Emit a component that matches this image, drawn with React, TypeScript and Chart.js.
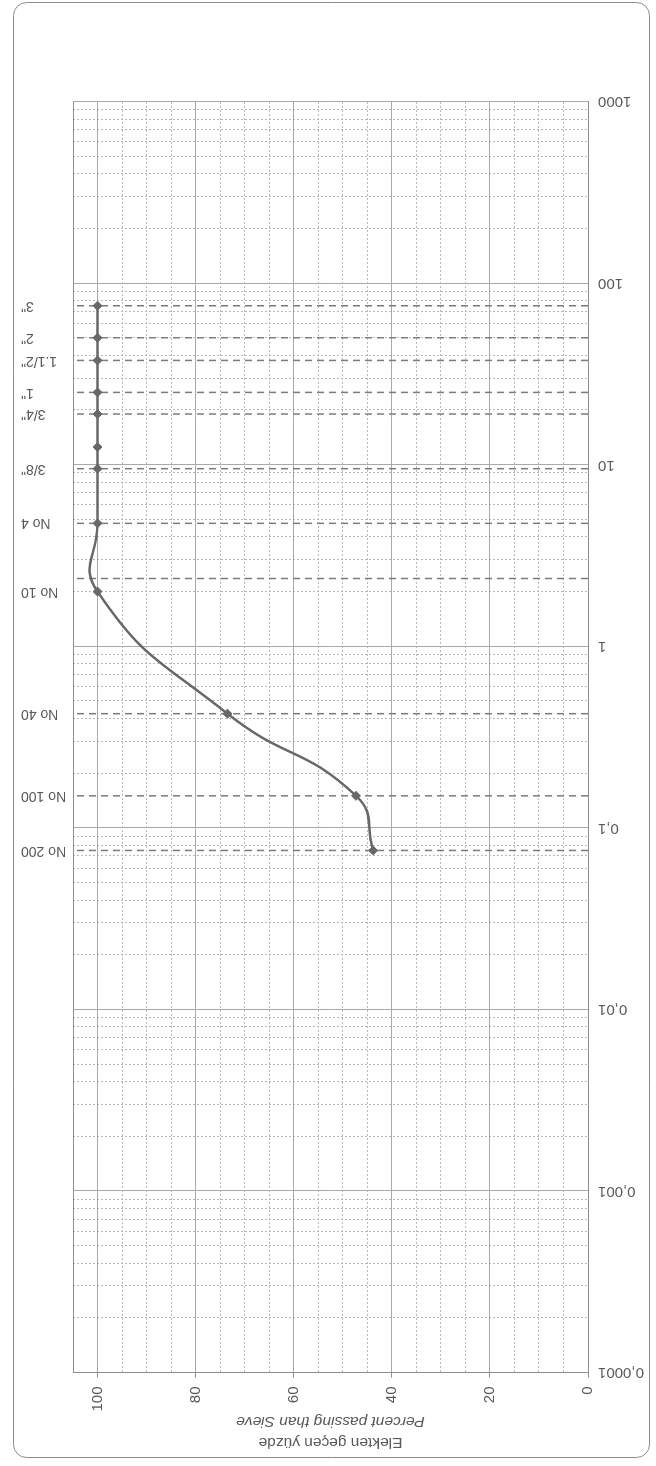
import React, { useEffect, useRef } from 'react';
import { Chart, registerables } from 'chart.js';

Chart.register(...registerables);

// ---- data ----
const grainSizes = [75, 50, 37.5, 25, 19, 12.5, 9.5, 4.75, 2.0, 0.425, 0.15, 0.075];
const percentPassing = [100, 100, 100, 100, 100, 100, 100, 100, 100, 73.5, 47.3, 43.8];

const sieveLabels = ['3"', '2"', '1.1/2"', '1"', '3/4"', '3/8"', 'No 4', 'No 10', 'No 40', 'No 100', 'No 200'];
const sieveLabelSizes = [75, 50, 37.5, 25, 19, 9.5, 4.75, 2.0, 0.425, 0.15, 0.075];
const sieveLineSizes = [75, 50, 37.5, 25, 19, 9.5, 4.75, 2.36, 0.425, 0.15, 0.075];

const sizeDecades = [0.0001, 0.001, 0.01, 0.1, 1, 10, 100, 1000];
const sizeTickLabels = ['0,0001', '0,001', '0,01', '0,1', '1', '10', '100', '1000'];
const percentTicks = [0, 20, 40, 60, 80, 100];
const percentMax = 105;
const percentStep = 5;
const yTitleLines = ['Elekten geçen yüzde', 'Percent passing than Sieve'];

// ---- styles ----
const FONT = '"Liberation Sans", Arial, sans-serif';
const TEXT = '#595959';
const MAJOR = '#a9a9a9';
const MINOR = '#b9b9b9';
const EDGE = '#8e8e8e';

const decadeIndex = (v: number) =>
  sizeDecades.findIndex((d) => Math.abs(Math.log10(v) - Math.log10(d)) < 1e-6);

const framePlugin = {
  id: 'frame',
  beforeDraw(chart: any) {
    const { ctx, width, height } = chart;
    ctx.save();
    ctx.fillStyle = '#ffffff';
    ctx.fillRect(0, 0, width, height);
    ctx.strokeStyle = '#8a8a8a';
    ctx.lineWidth = 1;
    ctx.beginPath();
    ctx.roundRect(8.5, 13.5, 1455, 636, 13);
    ctx.stroke();
    ctx.restore();
  },
};

const labelsPlugin = {
  id: 'sieveAndTitle',
  afterDraw(chart: any) {
    const { ctx, chartArea } = chart;
    const xs = chart.scales.x;
    ctx.save();
    ctx.fillStyle = TEXT;
    // sieve labels along the top
    ctx.font = `14px ${FONT}`;
    ctx.textAlign = 'right';
    ctx.textBaseline = 'middle';
    sieveLabels.forEach((lab, i) => {
      const u = xs.getPixelForValue(sieveLabelSizes[i]);
      ctx.save();
      ctx.translate(u, 21);
      ctx.rotate(-Math.PI / 2);
      ctx.fillText(lab, 0, 0);
      ctx.restore();
    });
    // y axis title (two lines, second italic)
    const vc = (chartArea.top + chartArea.bottom) / 2;
    const lineU = [24, 45];
    const fonts = [`15.5px ${FONT}`, `italic 15.5px ${FONT}`];
    ctx.textAlign = 'center';
    yTitleLines.forEach((t, i) => {
      ctx.save();
      ctx.font = fonts[i];
      ctx.translate(lineU[i], vc);
      ctx.rotate(-Math.PI / 2);
      ctx.fillText(t, 0, 0);
      ctx.restore();
    });
    ctx.restore();
  },
};

export default function App() {
  const ref = useRef<HTMLCanvasElement>(null);

  useEffect(() => {
    const curve = {
      data: grainSizes.map((s, i) => ({ x: s, y: percentPassing[i] })),
      borderColor: '#686868',
      borderWidth: 2.5,
      tension: 0.5,
      pointStyle: 'rectRot',
      pointRadius: 4.5,
      pointBackgroundColor: '#686868',
      pointBorderColor: '#686868',
      pointBorderWidth: 1,
      order: 0,
    };
    const sieveLines = sieveLineSizes.map((s) => ({
      data: [
        { x: s, y: 0 },
        { x: s, y: percentMax },
      ],
      borderColor: '#7b7b7b',
      borderWidth: 1.5,
      borderDash: [7, 5],
      pointRadius: 0,
      tension: 0,
      order: 2,
    }));

    const xDash = (c: any) => (c.tick && decadeIndex(c.tick.value) < 0 ? [2, 2] : []);
    const yIsMajor = (v: number) => percentTicks.includes(v) || v === percentMax;
    const yDash = (c: any) => (c.tick && !yIsMajor(c.tick.value) ? [2, 2] : []);

    const chart = new Chart(ref.current as HTMLCanvasElement, {
      type: 'line',
      data: { datasets: [curve, ...sieveLines] as any },
      plugins: [framePlugin, labelsPlugin],
      options: {
        responsive: false,
        animation: false,
        devicePixelRatio: 1,
        events: [],
        layout: { padding: { top: 73, right: 101.5, bottom: 0, left: 0 } },
        plugins: { legend: { display: false }, tooltip: { enabled: false } },
        scales: {
          x: {
            type: 'logarithmic',
            position: 'bottom',
            min: sizeDecades[0],
            max: sizeDecades[sizeDecades.length - 1],
            afterBuildTicks: (scale: any) => {
              const ticks: any[] = [];
              for (let d = 0; d < sizeDecades.length - 1; d++) {
                for (let m = 1; m <= 9; m++) ticks.push({ value: m * sizeDecades[d] });
              }
              ticks.push({ value: sizeDecades[sizeDecades.length - 1] });
              scale.ticks = ticks;
            },
            afterFit: (scale: any) => {
              scale.height = 68;
            },
            ticks: {
              autoSkip: false,
              minRotation: 90,
              maxRotation: 90,
              padding: 10,
              color: TEXT,
              font: { family: FONT, size: 15 },
              callback: (v: any) => {
                const i = decadeIndex(Number(v));
                return i >= 0 ? sizeTickLabels[i] : '';
              },
            },
            grid: {
              color: (c: any) => (c.tick && decadeIndex(c.tick.value) >= 0 ? MAJOR : MINOR),
              lineWidth: 1,
              drawTicks: false,
              borderDash: xDash,
            } as any,
            border: { display: true, color: EDGE, width: 1, dash: xDash } as any,
          },
          y: {
            type: 'linear',
            position: 'left',
            min: 0,
            max: percentMax,
            afterFit: (scale: any) => {
              scale.width = 93.5;
            },
            ticks: {
              stepSize: percentStep,
              autoSkip: false,
              padding: 9,
              color: TEXT,
              font: { family: FONT, size: 15 },
              callback: (v: any) => (percentTicks.includes(Number(v)) ? String(v) : ''),
            },
            grid: {
              color: (c: any) =>
                c.tick && c.tick.value === percentMax ? EDGE : c.tick && yIsMajor(c.tick.value) ? MAJOR : MINOR,
              lineWidth: 1,
              drawTicks: true,
              tickLength: 5,
              tickColor: (c: any) => (c.tick && percentTicks.includes(c.tick.value) ? EDGE : 'rgba(0,0,0,0)'),
              borderDash: yDash,
            } as any,
            border: { display: true, color: EDGE, width: 1, dash: yDash } as any,
          },
        },
      } as any,
    });
    return () => chart.destroy();
  }, []);

  return (
    <div
      style={{
        position: 'fixed',
        left: 0,
        top: 0,
        width: 656,
        height: 1466,
        overflow: 'hidden',
        background: '#ffffff',
      }}
    >
      <canvas
        ref={ref}
        width={1466}
        height={656}
        style={{
          position: 'absolute',
          left: -405,
          top: 405,
          width: 1466,
          height: 656,
          transform: 'rotate(-90deg)',
        }}
      />
    </div>
  );
}
